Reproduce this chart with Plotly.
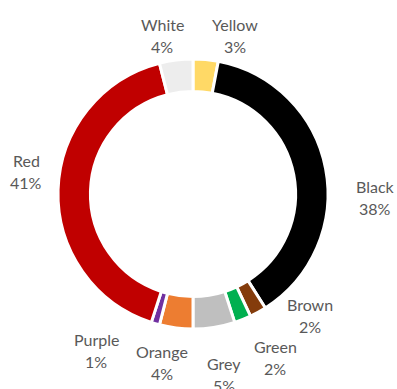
import plotly.graph_objects as go

# Share of car colours, clockwise from 12 o'clock
labels = ["Yellow", "Black", "Brown", "Green", "Grey", "Orange", "Purple", "Red", "White"]
shares = [3, 38, 2, 2, 5, 4, 1, 41, 4]
colors = ["#FFD966", "#000000", "#843C0C", "#00B050", "#BFBFBF",
          "#ED7D31", "#7030A0", "#C00000", "#EDEDED"]

W, H = 397, 389
# ring bounding box in pixels (left, right, top, bottom)
ring_box = (58, 328, 59, 329)
# centre of each two-line data label, in pixels
label_pos = {
    "Yellow": (235, 35), "Black": (375, 197), "Brown": (310, 315),
    "Green": (275, 357), "Grey": (224, 374), "Orange": (162, 362),
    "Purple": (96, 350), "Red": (26, 172), "White": (162, 35),
}
line_gap = 11

fig = go.Figure(
    go.Pie(
        labels=labels,
        values=shares,
        hole=0.76,
        sort=False,
        direction="clockwise",
        rotation=0,
        marker=dict(colors=colors, line=dict(color="white", width=3)),
        textinfo="none",
        hoverinfo="label+percent",
        showlegend=False,
        domain=dict(
            x=[ring_box[0] / W, ring_box[1] / W],
            y=[1 - ring_box[3] / H, 1 - ring_box[2] / H],
        ),
    )
)

font = dict(family="Lato", size=16, color="#595959")
for name, val in zip(labels, shares):
    px, py = label_pos[name]
    for text, shift in ((name, line_gap), (f"{val}%", -line_gap)):
        fig.add_annotation(
            x=px / W, y=1 - py / H, xref="paper", yref="paper",
            text=text, showarrow=False, font=font,
            xanchor="center", yanchor="middle", yshift=shift,
        )

fig.update_layout(
    width=W,
    height=H,
    margin=dict(l=0, r=0, t=0, b=0),
    paper_bgcolor="white",
    plot_bgcolor="white",
)

fig.write_html("out.html")
